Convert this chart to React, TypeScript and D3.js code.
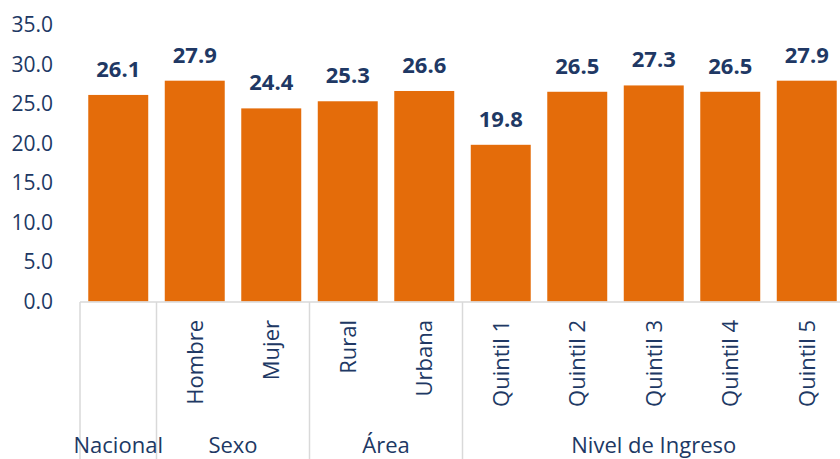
import React from "react";
import * as d3 from "d3";

const categories = ["Nacional", "Hombre", "Mujer", "Rural", "Urbana", "Quintil 1", "Quintil 2", "Quintil 3", "Quintil 4", "Quintil 5"];
const subLabels = ["", "Hombre", "Mujer", "Rural", "Urbana", "Quintil 1", "Quintil 2", "Quintil 3", "Quintil 4", "Quintil 5"];
const values = [26.1, 27.9, 24.4, 25.3, 26.6, 19.8, 26.5, 27.3, 26.5, 27.9];
const groups = [
  { name: "Nacional", start: 0, end: 1 },
  { name: "Sexo", start: 1, end: 3 },
  { name: "Área", start: 3, end: 5 },
  { name: "Nivel de Ingreso", start: 5, end: 10 },
];
const yTicks = [0, 5, 10, 15, 20, 25, 30, 35];

const W = 840;
const H = 459;
const FONT = "'Open Sans', 'Noto Sans', sans-serif";
const TEXT = "#203864";
const BAR = "#E46C0A";
const LINE = "#D9D9D9";

export default function App() {
  const x = d3.scaleBand<string>().domain(categories).range([80, 845]).paddingInner(0.216).paddingOuter(0.108);
  const y = d3.scaleLinear().domain([0, 35]).range([301.5, 24.5]);
  const step = x.step();
  const x0 = 80;
  const base = y(0);
  const fmt = d3.format(".1f");
  return (
    <div style={{ position: "absolute", left: 0, top: 0 }}>
      <svg width={W} height={H} style={{ display: "block" }}>
        {yTicks.map((t) => (
          <text key={t} x={53} y={y(t)} dy="0.36em" textAnchor="end" fontFamily={FONT} fontSize={21} fill={TEXT}>
            {fmt(t)}
          </text>
        ))}
        {categories.map((c, i) => (
          <rect key={c} x={x(c)} y={y(values[i])} width={x.bandwidth()} height={base - y(values[i])} fill={BAR} />
        ))}
        {categories.map((c, i) => (
          <text key={"v" + c} x={(x(c) as number) + x.bandwidth() / 2} y={y(values[i]) - 18} textAnchor="middle" fontFamily={FONT} fontWeight={700} fontSize={22} fill={TEXT}>
            {fmt(values[i])}
          </text>
        ))}
        <line x1={x0} x2={W} y1={base + 0.5} y2={base + 0.5} stroke={LINE} strokeWidth={1.5} />
        {[0, 1, 3, 5, 10].map((k) => (
          <line key={"s" + k} x1={x0 + k * step} x2={x0 + k * step} y1={base + 0.5} y2={H} stroke={LINE} strokeWidth={1.5} />
        ))}
        {categories.map((c, i) =>
          subLabels[i] ? (
            <text key={"l" + c} transform={`translate(${(x(c) as number) + x.bandwidth() / 2},320) rotate(-90)`} dy="0.36em" textAnchor="end" fontFamily={FONT} fontSize={22} fill={TEXT}>
              {subLabels[i]}
            </text>
          ) : null
        )}
        {groups.map((g) => (
          <text key={g.name} x={x0 + ((g.start + g.end) / 2) * step} y={453} textAnchor="middle" fontFamily={FONT} fontSize={22} fill={TEXT}>
            {g.name}
          </text>
        ))}
      </svg>
    </div>
  );
}
